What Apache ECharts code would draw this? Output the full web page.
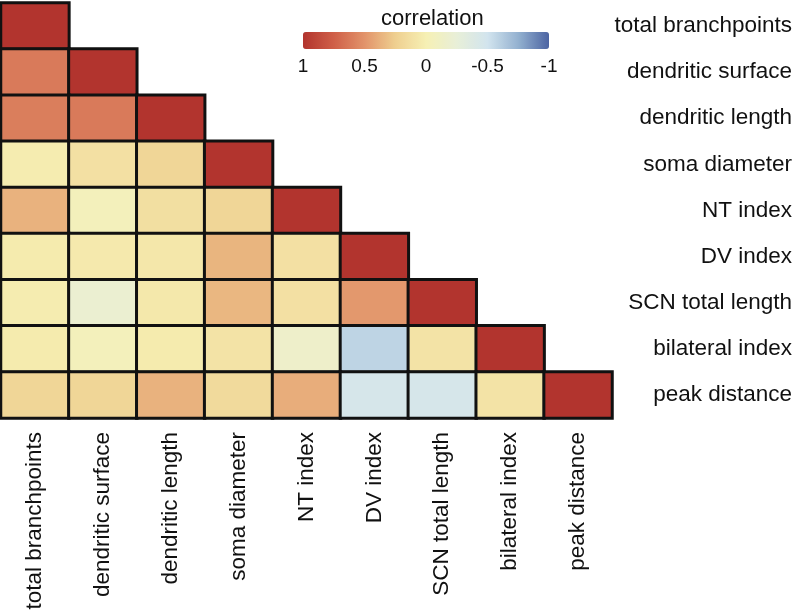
<!DOCTYPE html>
<html>
<head>
<meta charset="utf-8">
<script src="https://cdn.jsdelivr.net/npm/echarts@6/dist/echarts.min.js"></script>
<style>html,body{margin:0;padding:0;background:#fff}#c{width:796px;height:614px}</style>
</head>
<body>
<div id="c"></div>
<script>
var variables = ['total branchpoints','dendritic surface','dendritic length','soma diameter','NT index','DV index','SCN total length','bilateral index','peak distance'];
// lower-triangular correlation rows (row i has i+1 values, columns 0..i)
var row1 = [1];
var row2 = [0.62, 1];
var row3 = [0.6, 0.62, 1];
var row4 = [0.03, 0.12, 0.2, 1];
var row5 = [0.37, -0.05, 0.13, 0.2, 1];
var row6 = [0.04, 0.05, 0.07, 0.36, 0.12, 1];
var row7 = [0.03, -0.2, 0.06, 0.35, 0.12, 0.48, 1];
var row8 = [0.04, -0.05, 0.04, 0.1, -0.15, -0.58, 0.1, 1];
var row9 = [0.2, 0.2, 0.37, 0.17, 0.39, -0.45, -0.45, 0.1, 1];
var rows = [row1,row2,row3,row4,row5,row6,row7,row8,row9];
var legendTicks = [-1, -0.5, 0, 0.5, 1];
var scaleColors = ['#4c64a2','#93b1d0','#d2e4ee','#e8efd8','#f6f0b4','#efcf90','#e2936a','#cf5f48','#b2342e'];

var data = [];
rows.forEach(function(r, i){ r.forEach(function(v, j){ data.push([j, i, v]); }); });

var font = 'Liberation Sans, Arial, sans-serif';
var chart = echarts.init(document.getElementById('c'), null, {renderer:'canvas'});
chart.setOption({
  animation:false,
  title:{text:'correlation', left:376, top:3, textStyle:{fontFamily:font, fontSize:22, fontWeight:'normal', color:'#111'}},
  grid:[
    {left:1, top:3, width:611, height:415},
    {left:303, top:32, width:246, height:17}
  ],
  xAxis:[
    {type:'category', data:variables, gridIndex:0, axisLine:{show:false}, axisTick:{show:false}, splitLine:{show:false},
     axisLabel:{rotate:90, margin:14, fontFamily:font, fontSize:22.5, color:'#111', interval:0}},
    {type:'value', gridIndex:1, min:-1, max:1, interval:0.5, inverse:true, axisLine:{show:false}, axisTick:{show:false}, splitLine:{show:false},
     axisLabel:{margin:8, fontFamily:font, fontSize:19, color:'#111', customValues:legendTicks}}
  ],
  yAxis:[
    {type:'category', data:variables, gridIndex:0, inverse:true, position:'right', axisLine:{show:false}, axisTick:{show:false}, splitLine:{show:false},
     axisLabel:{align:'right', margin:180, fontFamily:font, fontSize:22.5, color:'#111', interval:0}},
    {type:'value', gridIndex:1, show:false}
  ],
  visualMap:{
    type:'continuous', min:-1, max:1, orient:'horizontal', inverse:true, left:303, top:32, padding:0,
    itemWidth:17, itemHeight:246, text:null, showLabel:false, calculable:false, hoverLink:false, realtime:false,
    seriesIndex:0, inRange:{color:scaleColors}
  },
  series:[{
    type:'heatmap', xAxisIndex:0, yAxisIndex:0, data:data,
    itemStyle:{borderColor:'#111', borderWidth:3},
    emphasis:{disabled:true}, label:{show:false}
  }]
});
</script>
</body>
</html>
